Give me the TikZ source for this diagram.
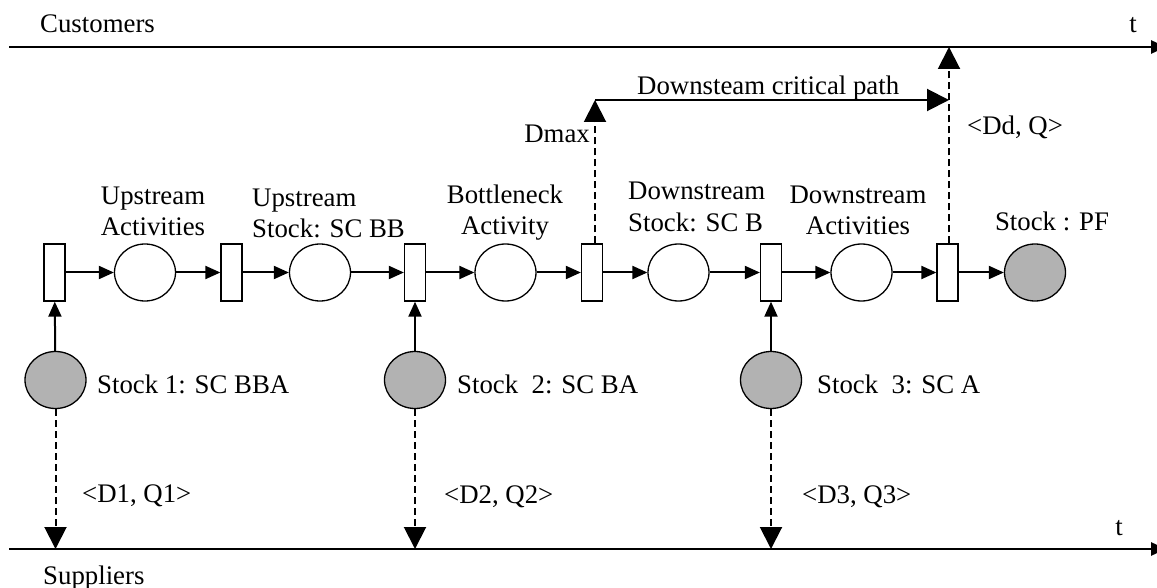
\documentclass[tikz,border=0pt]{standalone}
\usepackage{fontspec}
\setmainfont{Liberation Serif}
\usetikzlibrary{arrows.meta,shapes.geometric}
\begin{document}
\begin{tikzpicture}[x=1pt,y=-1pt,
  font=\fontsize{26.8}{31.5}\selectfont,
  trans/.style={draw,line width=1.3pt,fill=white,rectangle,minimum width=21pt,minimum height=57pt,inner sep=0pt},
  place/.style={draw,line width=1.3pt,fill=white,ellipse,minimum width=61pt,minimum height=57pt,inner sep=0pt},
  stockplace/.style={place,fill=black!30},
  lbl/.style={inner sep=0pt},
  flow/.style={line width=2pt,-{Triangle[length=15pt,width=13pt]}},
  big/.style={line width=2pt,-{Triangle[length=22pt,width=22pt]}},
  info/.style={big,dash pattern=on 7pt off 4pt},
  axis/.style={line width=2.7pt,-{Triangle[length=15pt,width=13pt]}}]
\useasboundingbox (0,0) rectangle (1157,588);
% axes
\coordinate (topL) at (9,47);
\coordinate (topR) at (1166,47);
\coordinate (botL) at (9,549);
\coordinate (botR) at (1166,549);
\draw[axis] (topL) -- (topR);
\draw[axis] (botL) -- (botR);
\node[lbl,anchor=base west] (cust) at (40,33) {Customers};
\node[lbl,anchor=base] (t1) at (1133,33) {t};
\node[lbl,anchor=base west] (supp) at (43,584) {Suppliers};
\node[lbl,anchor=base] (t2) at (1119,535) {t};
% net
\node[trans] (T1) at (54.5,272.5) {};
\node[place] (P1) at (145,272.5) {};
\node[trans] (T2) at (231.5,272.5) {};
\node[place] (P2) at (320,272.5) {};
\node[trans] (T3) at (415,272.5) {};
\node[place] (P3) at (505.5,272.5) {};
\node[trans] (T4) at (592,272.5) {};
\node[place] (P4) at (678.5,272.5) {};
\node[trans] (T5) at (771,272.5) {};
\node[place] (P5) at (861.5,272.5) {};
\node[trans] (T6) at (947.5,272.5) {};
\node[stockplace] (PF) at (1035,272.5) {};
\node[stockplace] (S1) at (55.5,380) {};
\node[stockplace] (S2) at (415,380) {};
\node[stockplace] (S3) at (771,380) {};
\foreach \a/\b in {T1/P1,P1/T2,T2/P2,P2/T3,T3/P3,P3/T4,T4/P4,P4/T5,T5/P5,P5/T6,T6/PF}
  \draw[flow] (\a) -- (\b);
\draw[flow] (S1) -- (T1);
\draw[flow] (S2) -- (T3);
\draw[flow] (S3) -- (T5);
% information flows
\draw[info] (S1.south) -- (S1.south |- botL);
\draw[info] (S2.south) -- (S2.south |- botL);
\draw[info] (S3.south) -- (S3.south |- botL);
\coordinate (dm) at (595,100);
\coordinate (dd) at (949,100);
\draw[info] (T4.north -| dm) -- (dm);
\draw[big] (dm) -- (dd);
\draw[info] (T6.north -| dd) -- (dd |- topL);
% labels
\node[lbl,anchor=base,align=center] (l1) at (153,236) {Upstream\\Activities};
\node[lbl,anchor=base west,align=left] (l2) at (252,237.5) {Upstream\\Stock: SC BB};
\node[lbl,anchor=base,align=center] (l3) at (505,235) {Bottleneck\\Activity};
\node[lbl,anchor=base west,align=left] (l4) at (628,231.5) {Downstream\\Stock: SC B};
\node[lbl,anchor=base,align=center] (l5) at (858,235) {Downstream\\Activities};
\node[lbl,anchor=base] (l6) at (1052,231) {Stock : PF};
\node[lbl,anchor=base west] (s1) at (97,393) {Stock 1: SC BBA};
\node[lbl,anchor=base west] (s2) at (457,393) {Stock\ \ 2: SC BA};
\node[lbl,anchor=base west] (s3) at (817,393) {Stock\ \ 3: SC A};
\node[lbl,anchor=base west] (q1) at (82,502) {\textless D1, Q1\textgreater};
\node[lbl,anchor=base west] (q2) at (444,503) {\textless D2, Q2\textgreater};
\node[lbl,anchor=base west] (q3) at (802,503) {\textless D3, Q3\textgreater};
\node[lbl,anchor=base west] (qd) at (967,135) {\textless Dd, Q\textgreater};
\node[lbl,anchor=base east] (dmax) at (590,143) {Dmax};
\node[lbl,anchor=base west] (cp) at (637,95) {Downsteam critical path};
\end{tikzpicture}
\end{document}
